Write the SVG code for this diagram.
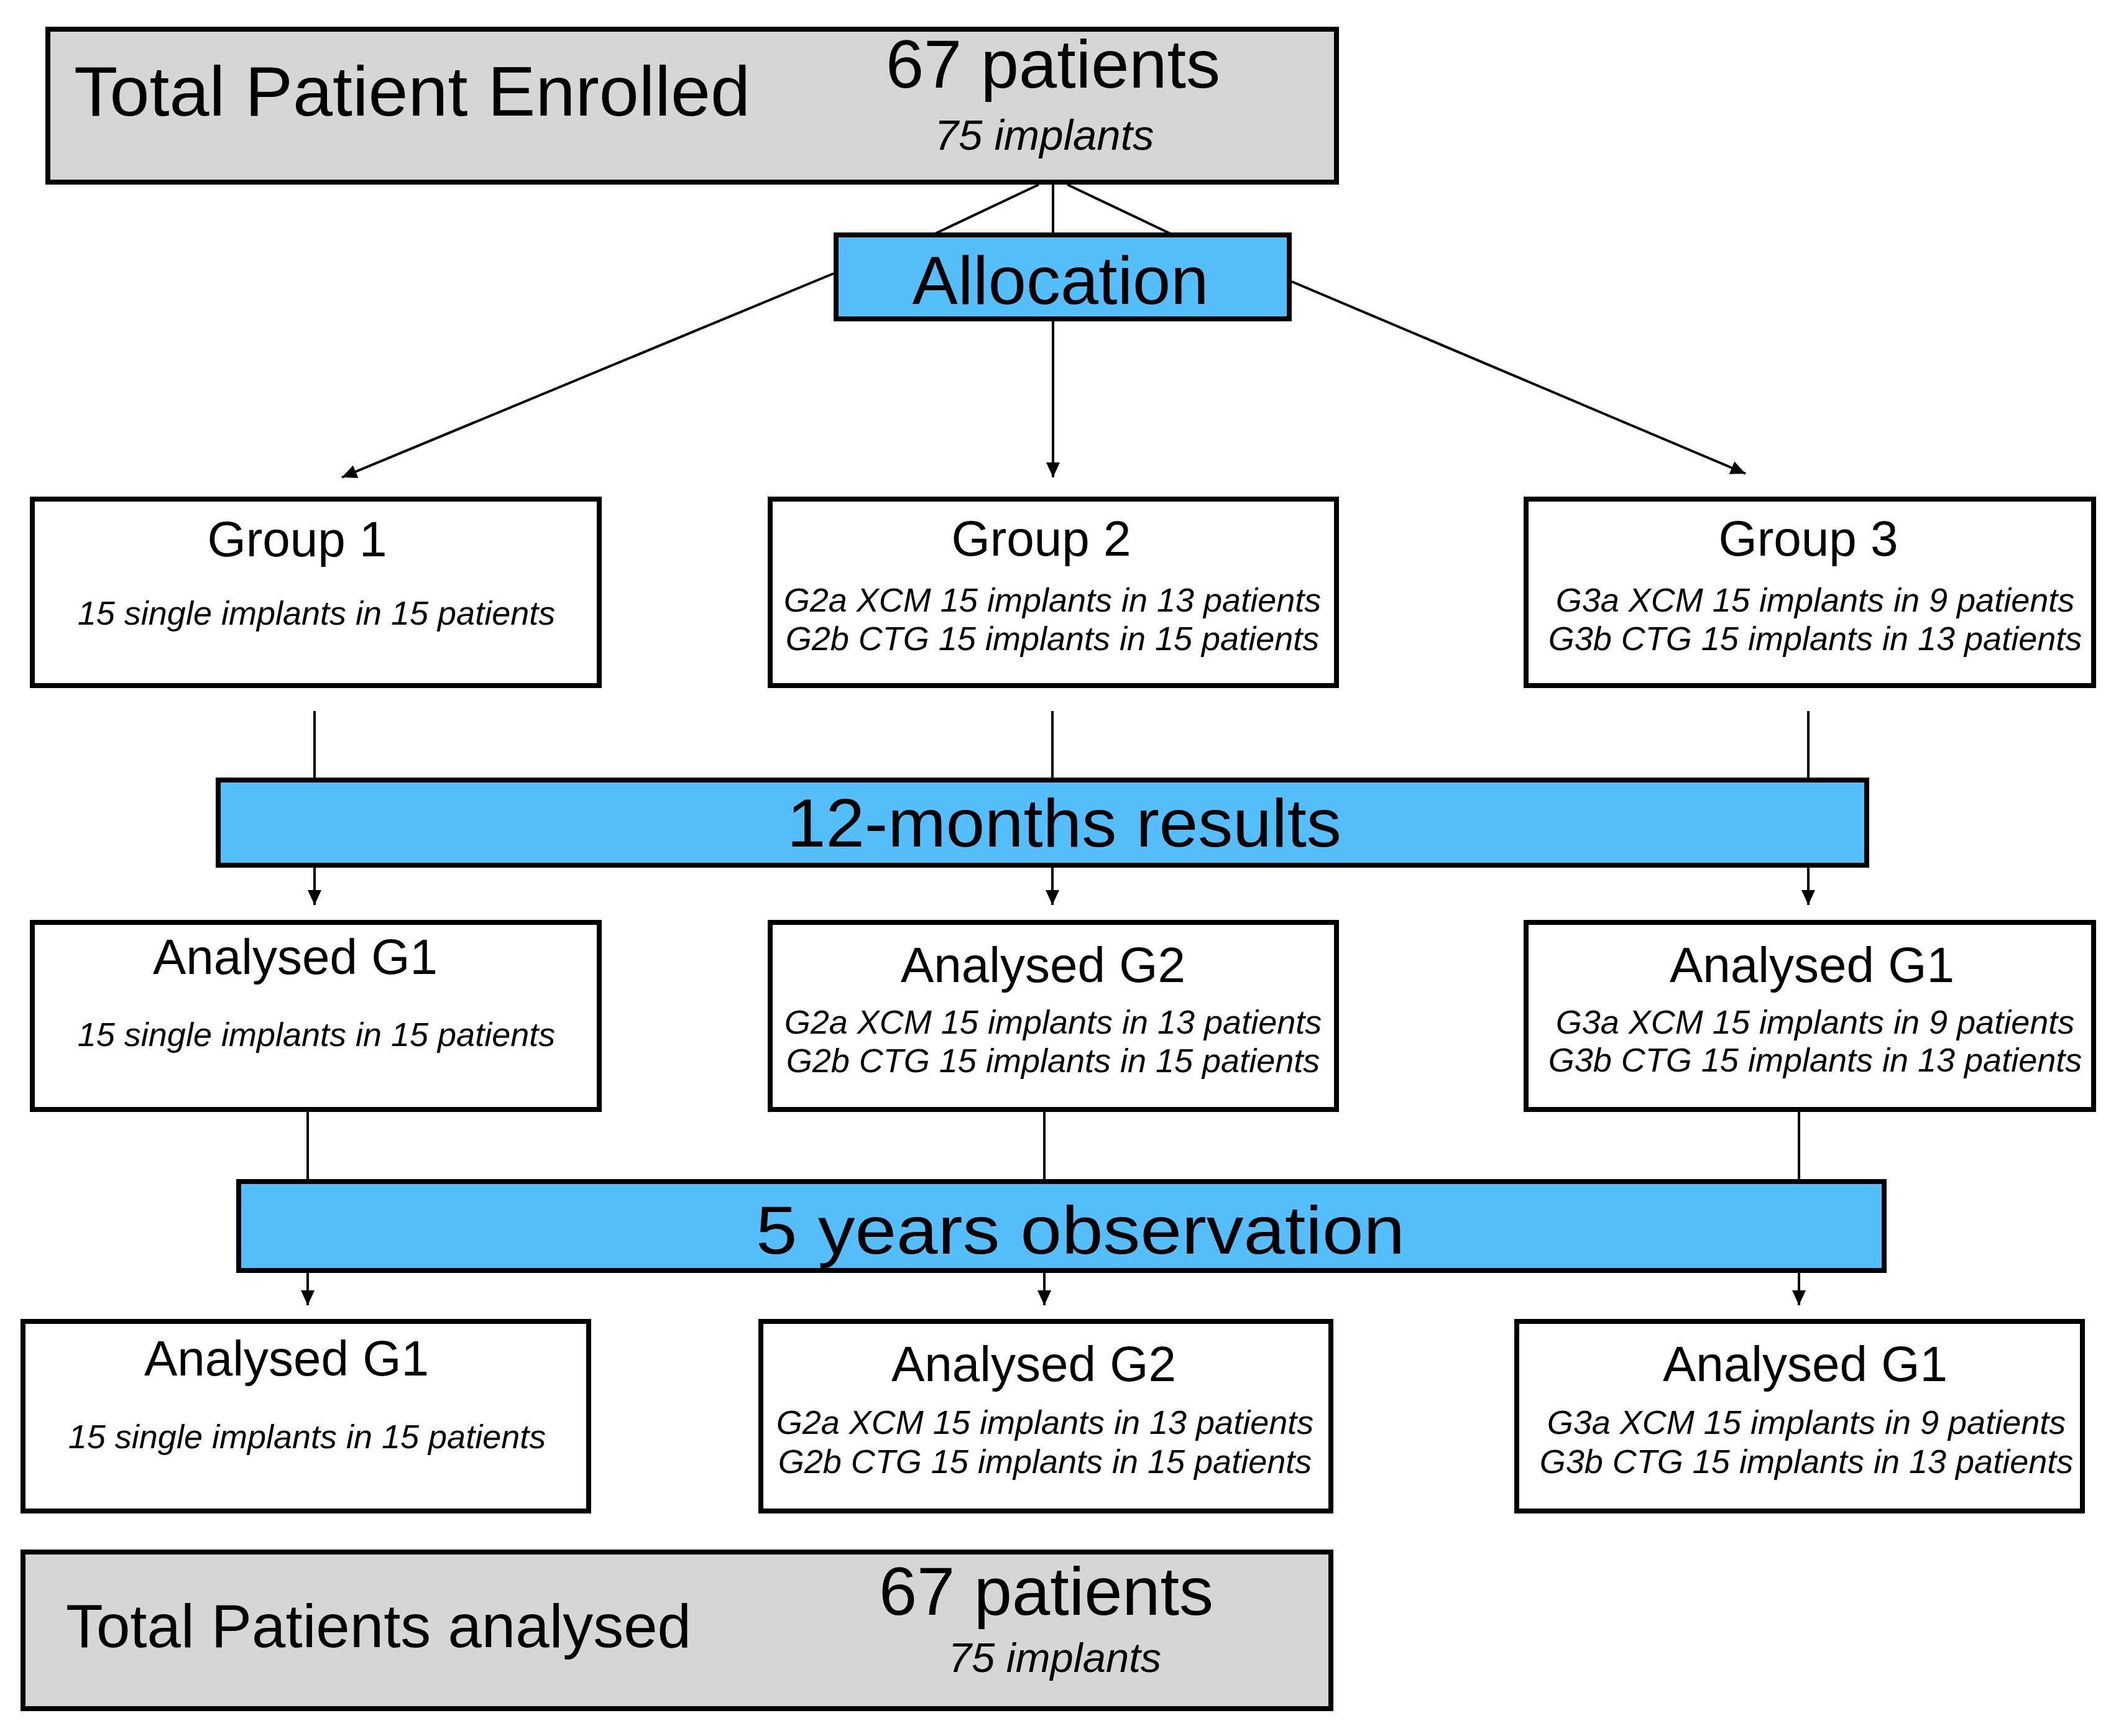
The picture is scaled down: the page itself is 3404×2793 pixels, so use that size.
<svg xmlns="http://www.w3.org/2000/svg" width="3404" height="2793" viewBox="0 0 3404 2793">
<style>
.box{fill:#ffffff;stroke:#000;stroke-width:8}
.gray{fill:#d6d6d6;stroke:#000;stroke-width:8}
.blue{fill:#56befb;stroke:#000;stroke-width:8}
.t{font-family:"Liberation Sans",Arial,Helvetica,sans-serif;fill:#000}
.title{font-size:80px;text-anchor:middle}
.sub{font-size:54px;font-style:italic;text-anchor:middle}
.big{font-size:110px;text-anchor:middle}
.ln{stroke:#000;stroke-width:4;fill:none}
</style>
<defs>
<marker id="ah" viewBox="0 0 24 22" refX="24" refY="11" markerWidth="24" markerHeight="22" markerUnits="userSpaceOnUse" orient="auto">
<path d="M0,0 L24,11 L0,22 Z" fill="#000"/>
</marker>
</defs>
<rect width="3404" height="2793" fill="#fff"/>

<g id="connectors">
<line class="ln" x1="1671" y1="297" x2="1504" y2="376"/>
<line class="ln" x1="1694" y1="297" x2="1694" y2="376"/>
<line class="ln" x1="1717" y1="297" x2="1883" y2="376"/>
<line class="ln" x1="1341" y1="440" x2="550" y2="768" marker-end="url(#ah)"/>
<line class="ln" x1="1694" y1="517" x2="1694" y2="768" marker-end="url(#ah)"/>
<line class="ln" x1="2078" y1="453" x2="2808" y2="762" marker-end="url(#ah)"/>
<line class="ln" x1="506" y1="1144" x2="506" y2="1255"/>
<line class="ln" x1="1693" y1="1144" x2="1693" y2="1255"/>
<line class="ln" x1="2909" y1="1144" x2="2909" y2="1255"/>
<line class="ln" x1="506" y1="1396" x2="506" y2="1456" marker-end="url(#ah)"/>
<line class="ln" x1="1693" y1="1396" x2="1693" y2="1456" marker-end="url(#ah)"/>
<line class="ln" x1="2909" y1="1396" x2="2909" y2="1456" marker-end="url(#ah)"/>
<line class="ln" x1="495" y1="1789" x2="495" y2="1901"/>
<line class="ln" x1="1680" y1="1789" x2="1680" y2="1901"/>
<line class="ln" x1="2894" y1="1789" x2="2894" y2="1901"/>
<line class="ln" x1="495" y1="2048" x2="495" y2="2100" marker-end="url(#ah)"/>
<line class="ln" x1="1680" y1="2048" x2="1680" y2="2100" marker-end="url(#ah)"/>
<line class="ln" x1="2894" y1="2048" x2="2894" y2="2100" marker-end="url(#ah)"/>
</g>

<g id="enrolled">
<rect class="gray" x="77" y="47" width="2073" height="246"/>
<text class="t" x="119" y="186" font-size="114" textLength="1088" lengthAdjust="spacingAndGlyphs">Total Patient Enrolled</text>
<text class="t big" x="1694" y="141" font-size="109">67 patients</text>
<text class="t" x="1680" y="241" font-size="69" font-style="italic" text-anchor="middle">75 implants</text>
</g>

<g id="allocation">
<rect class="blue" x="1345" y="378" width="729" height="135"/>
<text class="t big" x="1706" y="489" font-size="109">Allocation</text>
</g>

<g id="group1">
<rect class="box" x="52" y="803" width="912" height="300"/>
<text class="t title" x="478" y="895">Group 1</text>
<text class="t sub" x="509" y="1005">15 single implants in 15 patients</text>
</g>
<g id="group2">
<rect class="box" x="1239" y="803" width="911" height="300"/>
<text class="t title" x="1675" y="894">Group 2</text>
<text class="t sub" x="1693" y="984">G2a XCM 15 implants in 13 patients</text>
<text class="t sub" x="1693" y="1046">G2b CTG 15 implants in 15 patients</text>
</g>
<g id="group3">
<rect class="box" x="2455" y="803" width="913" height="300"/>
<text class="t title" x="2909" y="894">Group 3</text>
<text class="t sub" x="2920" y="984">G3a XCM 15 implants in 9 patients</text>
<text class="t sub" x="2920" y="1046">G3b CTG 15 implants in 13 patients</text>
</g>

<g id="months12">
<rect class="blue" x="351" y="1255" width="2652" height="137"/>
<text class="t big" x="1712" y="1362" font-size="112" textLength="892" lengthAdjust="spacingAndGlyphs">12-months results</text>
</g>

<g id="analysed1-g1">
<rect class="box" x="52" y="1484" width="912" height="301"/>
<text class="t title" x="475" y="1567">Analysed G1</text>
<text class="t sub" x="509" y="1683">15 single implants in 15 patients</text>
</g>
<g id="analysed1-g2">
<rect class="box" x="1239" y="1484" width="911" height="301"/>
<text class="t title" x="1678" y="1580">Analysed G2</text>
<text class="t sub" x="1694" y="1663">G2a XCM 15 implants in 13 patients</text>
<text class="t sub" x="1694" y="1725">G2b CTG 15 implants in 15 patients</text>
</g>
<g id="analysed1-g3">
<rect class="box" x="2455" y="1484" width="913" height="301"/>
<text class="t title" x="2915" y="1580">Analysed G1</text>
<text class="t sub" x="2920" y="1663">G3a XCM 15 implants in 9 patients</text>
<text class="t sub" x="2920" y="1724">G3b CTG 15 implants in 13 patients</text>
</g>

<g id="years5">
<rect class="blue" x="384" y="1901" width="2647" height="143"/>
<text class="t big" x="1738" y="2017" font-size="121" textLength="1044" lengthAdjust="spacingAndGlyphs">5 years observation</text>
</g>

<g id="analysed2-g1">
<rect class="box" x="37" y="2126" width="910" height="305"/>
<text class="t title" x="461" y="2213">Analysed G1</text>
<text class="t sub" x="494" y="2330">15 single implants in 15 patients</text>
</g>
<g id="analysed2-g2">
<rect class="box" x="1224" y="2126" width="917" height="305"/>
<text class="t title" x="1663" y="2222">Analysed G2</text>
<text class="t sub" x="1681" y="2307">G2a XCM 15 implants in 13 patients</text>
<text class="t sub" x="1681" y="2370">G2b CTG 15 implants in 15 patients</text>
</g>
<g id="analysed2-g3">
<rect class="box" x="2440" y="2126" width="910" height="305"/>
<text class="t title" x="2904" y="2222">Analysed G1</text>
<text class="t sub" x="2906" y="2307">G3a XCM 15 implants in 9 patients</text>
<text class="t sub" x="2906" y="2370">G3b CTG 15 implants in 13 patients</text>
</g>

<g id="total-analysed">
<rect class="gray" x="37" y="2497" width="2104" height="252"/>
<text class="t" x="106" y="2650" font-size="98" textLength="1006" lengthAdjust="spacingAndGlyphs">Total Patients analysed</text>
<text class="t big" x="1683" y="2598" font-size="109">67 patients</text>
<text class="t" x="1697" y="2690" font-size="67" font-style="italic" text-anchor="middle">75 implants</text>
</g>
</svg>
